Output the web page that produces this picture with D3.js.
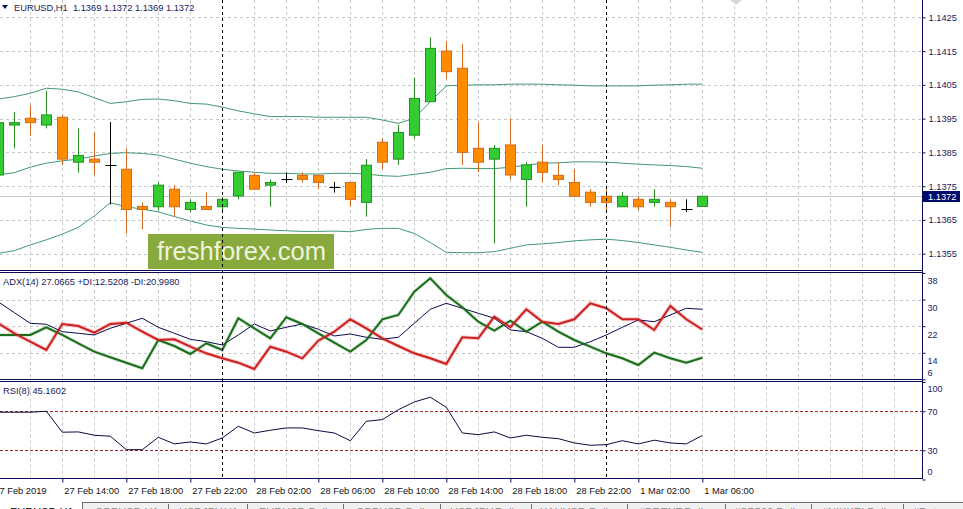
<!DOCTYPE html>
<html><head><meta charset="utf-8">
<script src="https://cdn.jsdelivr.net/npm/d3@7"></script>
<style>
body{margin:0;background:#fff;overflow:hidden}
svg{display:block}
text{font-family:"Liberation Sans",Arial,sans-serif}
</style></head>
<body><svg id="c" width="963" height="509"></svg>
<script>
// ---------------- data ----------------
const symbol = "EURUSD,H1";
const lastBar = ["1.1369", "1.1372", "1.1369", "1.1372"];
const open  = [1.13783,1.13931,1.13951,1.13931,1.13954,1.13821,1.13830,1.13813,1.13800,1.13690,1.13689,1.13741,1.13681,1.13690,1.13689,1.13721,1.13782,1.13753,1.13770,1.13782,1.13782,1.13747,1.13761,1.13702,1.13880,1.13830,1.13901,1.14000,1.14150,1.14099,1.13862,1.13830,1.13872,1.13770,1.13821,1.13782,1.13761,1.13732,1.13720,1.13689,1.13711,1.13702,1.13702,1.13681,1.13690];
const high  = [1.13943,1.13970,1.13990,1.14032,1.13961,1.13921,1.13909,1.13940,1.13862,1.13702,1.13761,1.13753,1.13711,1.13732,1.13717,1.13791,1.13790,1.13770,1.13791,1.13791,1.13782,1.13762,1.13761,1.13830,1.13892,1.13931,1.14071,1.14191,1.14180,1.14171,1.13939,1.13872,1.13951,1.13821,1.13872,1.13821,1.13800,1.13741,1.13741,1.13732,1.13720,1.13741,1.13711,1.13711,1.13720];
const low   = [1.13777,1.13862,1.13899,1.13921,1.13813,1.13790,1.13783,1.13696,1.13610,1.13622,1.13679,1.13660,1.13673,1.13681,1.13679,1.13711,1.13739,1.13689,1.13760,1.13761,1.13741,1.13731,1.13689,1.13660,1.13800,1.13813,1.13892,1.14000,1.14067,1.13813,1.13791,1.13581,1.13770,1.13689,1.13761,1.13753,1.13720,1.13689,1.13679,1.13689,1.13679,1.13689,1.13630,1.13673,1.13690];
const close = [1.13938,1.13938,1.13938,1.13961,1.13830,1.13841,1.13821,1.13813,1.13681,1.13681,1.13753,1.13689,1.13702,1.13681,1.13711,1.13791,1.13741,1.13761,1.13770,1.13770,1.13761,1.13747,1.13711,1.13812,1.13821,1.13909,1.14010,1.14158,1.14089,1.13850,1.13821,1.13862,1.13783,1.13813,1.13791,1.13770,1.13720,1.13702,1.13702,1.13720,1.13689,1.13711,1.13689,1.13681,1.13720];
const bbUpper  = [1.14008,1.14015,1.14025,1.14040,1.14037,1.14029,1.14012,1.13995,1.14000,1.14007,1.14008,1.14003,1.13995,1.13993,1.13984,1.13973,1.13964,1.13956,1.13956,1.13956,1.13954,1.13954,1.13954,1.13954,1.13946,1.13936,1.13951,1.14000,1.14047,1.14049,1.14050,1.14050,1.14052,1.14052,1.14052,1.14050,1.14049,1.14047,1.14047,1.14047,1.14047,1.14049,1.14050,1.14052,1.14052];
const bbMiddle = [1.13783,1.13790,1.13806,1.13818,1.13825,1.13830,1.13839,1.13847,1.13849,1.13847,1.13842,1.13830,1.13818,1.13808,1.13800,1.13795,1.13791,1.13788,1.13788,1.13786,1.13786,1.13788,1.13788,1.13786,1.13781,1.13779,1.13785,1.13791,1.13802,1.13803,1.13802,1.13802,1.13806,1.13812,1.13818,1.13819,1.13822,1.13822,1.13821,1.13818,1.13815,1.13813,1.13811,1.13808,1.13803];
const bbLower  = [1.13551,1.13559,1.13576,1.13591,1.13608,1.13628,1.13662,1.13701,1.13689,1.13682,1.13674,1.13660,1.13647,1.13635,1.13628,1.13625,1.13623,1.13620,1.13618,1.13616,1.13616,1.13617,1.13615,1.13622,1.13625,1.13625,1.13610,1.13583,1.13554,1.13553,1.13553,1.13556,1.13566,1.13576,1.13579,1.13583,1.13588,1.13591,1.13593,1.13589,1.13583,1.13576,1.13569,1.13561,1.13554];
const adx     = [29.3,26.05,22.86,22.56,20.34,19.86,19.35,21.36,22.86,24.37,21.66,19.86,18.05,17.33,16.34,19.35,22.65,20.55,21.66,22.65,21.06,19.05,19.65,18.65,18.05,18.65,22.86,27.07,28.87,27.37,25.87,24.37,20.85,20.34,18.35,15.65,15.65,17.33,19.35,21.66,23.85,23.34,25.36,27.37,27.07];
const plusDI  = [19.35,19.35,19.35,21.66,19.35,16.85,14.33,12.64,11.02,9.34,17.84,16.04,13.63,16.85,14.84,24.37,21.36,18.35,24.67,22.65,19.86,17.03,14.33,17.84,24.06,25.36,32.36,36.39,31.37,27.67,23.34,20.64,23.64,20.34,23.34,20.34,17.84,15.83,13.84,12.34,10.33,14.03,12.34,11.02,12.52];
const minusDI = [22.86,19.86,17.33,14.84,22.65,22.05,20.04,22.65,23.04,20.34,17.84,18.05,15.83,13.84,12.34,11.02,9.13,15.83,14.33,12.34,17.63,20.34,24.06,21.36,18.35,16.04,13.84,12.34,10.63,18.65,18.35,24.85,21.66,27.07,23.34,22.65,24.06,28.87,27.37,24.06,24.06,20.85,28.06,24.06,21.00];
const rsi     = [69.0,69.0,69.0,70.0,48.5,48.8,45.4,44.4,30.6,30.6,43.3,36.5,38.5,36.5,42.6,54.6,47.7,50.5,52.9,52.9,50.1,47.7,39.8,59.7,61.4,71.6,79.5,84.4,74.1,47.7,46.0,48.8,42.6,45.4,43.3,41.9,37.5,35.1,35.7,39.8,36.5,40.3,37.5,36.5,45.16];
const adxHeader = "ADX(14) 27.0665 +DI:12.5208 -DI:20.9980";
const rsiHeader = "RSI(8) 45.1602";
const priceTicks = [1.1355,1.1365,1.1375,1.1385,1.1395,1.1405,1.1415,1.1425];
const lastPrice = 1.1372;
const adxTicks = [6,14,22,30,38];
const rsiTicks = [0,30,70,100];
const rsiLevels = [30,70];
const timeLabels = ["27 Feb 2019","27 Feb 14:00","27 Feb 18:00","27 Feb 22:00","28 Feb 02:00","28 Feb 06:00","28 Feb 10:00","28 Feb 14:00","28 Feb 18:00","28 Feb 22:00","1 Mar 02:00","1 Mar 06:00"];
const timeTickIdx = [0,4,8,12,16,20,24,28,32,36,40,44];
const daySeparatorIdx = [14,38];
const tabs = ["EURUSD,H1","GBPUSD,H1","USDJPY,H1","EURUSD,Daily","GBPUSD,Daily","USDJPY,Daily","XAUUSD,Daily","#BRENT,Daily","#SP500,Daily","#NIKKEI,Daily","#Dat"];

// ---------------- layout ----------------
const W = 963, H = 509;
const axisX = 922;
const P = { main:[0,270], adx:[272,378.5], rsi:[380.5,478] };
const navy = "#0b0b5c", txt = "#1a1a5e";
const svg = d3.select("#c");
const n = close.length;
const x = d3.scaleLinear().domain([0, n-1]).range([-1.7, 702.3]);
const yP = d3.scaleLinear().domain([1.1355, 1.1425]).range([253.7, 17.3]);
const yA = d3.scaleLinear().domain([6, 38]).range([379.4, 272.9]);
const yR = d3.scaleLinear().domain([0, 100]).range([479.5, 382]);

const defs = svg.append("defs");
Object.entries(P).forEach(([k,[t,b]]) => {
  defs.append("clipPath").attr("id","clip-"+k).append("rect").attr("x",0).attr("y",t).attr("width",axisX).attr("height",b-t);
});

// vertical grid
const gridIdx = d3.range(2, 57, 2).filter(i => !daySeparatorIdx.includes(i));
Object.entries(P).forEach(([k,[t,b]]) => {
  svg.append("g").selectAll("line").data(gridIdx).join("line")
    .attr("x1", d => Math.round(x(d))+0.5).attr("x2", d => Math.round(x(d))+0.5)
    .attr("y1", t).attr("y2", b)
    .attr("stroke", "#c8c8c8").attr("stroke-dasharray", "3,3");
});
// horizontal grid main
svg.append("g").selectAll("line").data(priceTicks).join("line")
  .attr("x1",0).attr("x2",axisX).attr("y1",d=>Math.round(yP(d))+0.5).attr("y2",d=>Math.round(yP(d))+0.5)
  .attr("stroke","#c8c8c8").attr("stroke-dasharray","3,3");
// horizontal grid adx
svg.append("g").selectAll("line").data(adxTicks.filter(v=>v>6&&v<38)).join("line")
  .attr("x1",0).attr("x2",axisX).attr("y1",d=>Math.round(yA(d))+0.5).attr("y2",d=>Math.round(yA(d))+0.5)
  .attr("stroke","#c8c8c8").attr("stroke-dasharray","3,3");
// RSI levels
svg.append("g").selectAll("line").data(rsiLevels).join("line")
  .attr("x1",0).attr("x2",axisX).attr("y1",d=>Math.round(yR(d))+0.5).attr("y2",d=>Math.round(yR(d))+0.5)
  .attr("stroke","#a0282a").attr("stroke-dasharray","3,2");

// current price line
svg.append("line").attr("x1",0).attr("x2",axisX)
  .attr("y1",Math.round(yP(lastPrice))+0.5).attr("y2",Math.round(yP(lastPrice))+0.5)
  .attr("stroke","#c8c8c8");

// logo
const logo = svg.append("g");
logo.append("rect").attr("x",148).attr("y",234).attr("width",186).attr("height",35).attr("fill","#88a93c");
logo.append("text").attr("x",157).attr("y",259.5).attr("font-family","Lato, 'Open Sans', sans-serif")
  .attr("font-size",25).attr("fill","#eef4dc").attr("textLength",169).attr("lengthAdjust","spacingAndGlyphs")
  .text("freshforex.com");

// Bollinger bands
const gMain = svg.append("g").attr("clip-path","url(#clip-main)");
[bbUpper,bbMiddle,bbLower].forEach(arr => {
  gMain.append("path").datum(arr)
    .attr("d", d3.line().x((d,i)=>x(i)).y(d=>yP(d)))
    .attr("fill","none").attr("stroke","#3f9a72").attr("stroke-width",1);
});

// candles
const bull = {fill:"#33cc33", stroke:"#23901f"};
const bear = {fill:"#ff8c00", stroke:"#d2691e"};
const idx = d3.range(n);
const cg = gMain.append("g");
idx.forEach(i => {
  const cx = Math.round(x(i)) + 0.5;
  const o = open[i], c = close[i];
  if (o === c) {
    cg.append("line").attr("x1",cx).attr("x2",cx).attr("y1",yP(high[i])).attr("y2",yP(low[i])).attr("stroke","#000");
    cg.append("line").attr("x1",cx-5).attr("x2",cx+6).attr("y1",Math.round(yP(o))+0.5).attr("y2",Math.round(yP(o))+0.5).attr("stroke","#000");
    return;
  }
  const s = c > o ? bull : bear;
  cg.append("line").attr("x1",cx).attr("x2",cx).attr("y1",yP(high[i])).attr("y2",yP(low[i])).attr("stroke",s.stroke);
  const top = yP(Math.max(o,c)), bot = yP(Math.min(o,c));
  cg.append("rect").attr("x",cx-5).attr("y",top).attr("width",10).attr("height",Math.max(1,bot-top))
    .attr("fill",s.fill).attr("stroke",s.stroke);
});

// ADX panel
const gA = svg.append("g").attr("clip-path","url(#clip-adx)");
const lineA = d3.line().x((d,i)=>x(i)).y(d=>yA(d));
gA.append("path").datum(minusDI).attr("d",lineA).attr("fill","none").attr("stroke","#f3a3a3").attr("stroke-width",4).attr("opacity",0.6);
gA.append("path").datum(plusDI).attr("d",lineA).attr("fill","none").attr("stroke","#9cc79c").attr("stroke-width",3.5).attr("opacity",0.5);
gA.append("path").datum(adx).attr("d",lineA).attr("fill","none").attr("stroke","#0a0a50").attr("stroke-width",1);
gA.append("path").datum(plusDI).attr("d",lineA).attr("fill","none").attr("stroke","#1c6e1c").attr("stroke-width",2);
gA.append("path").datum(minusDI).attr("d",lineA).attr("fill","none").attr("stroke","#cc2020").attr("stroke-width",2);

// RSI panel
const gR = svg.append("g").attr("clip-path","url(#clip-rsi)");
gR.append("path").datum(rsi).attr("d", d3.line().x((d,i)=>x(i)).y(d=>yR(d)))
  .attr("fill","none").attr("stroke","#0a0a40").attr("stroke-width",1);

// day separators
svg.append("g").selectAll("line").data(daySeparatorIdx).join("line")
  .attr("x1",d=>Math.round(x(d))+0.5).attr("x2",d=>Math.round(x(d))+0.5)
  .attr("y1",0).attr("y2",P.rsi[1]).attr("stroke","#000").attr("stroke-dasharray","3,3");

// panel borders
[[P.main[1]],[P.adx[0]],[P.adx[1]],[P.rsi[0]],[P.rsi[1]]].forEach(([yy]) => {
  svg.append("line").attr("x1",0).attr("x2",axisX+1).attr("y1",Math.round(yy)+0.5).attr("y2",Math.round(yy)+0.5).attr("stroke",navy);
});
svg.append("line").attr("x1",axisX+0.5).attr("x2",axisX+0.5).attr("y1",0).attr("y2",P.rsi[1]+1).attr("stroke",navy);

// price axis
const axP = svg.append("g").attr("transform",`translate(${axisX+0.5},0)`)
  .call(d3.axisRight(yP).tickValues(priceTicks).tickSize(3).tickPadding(3).tickFormat(d3.format(".4f")));
axP.select(".domain").remove();
axP.selectAll("line").attr("stroke",navy);
axP.selectAll("text").attr("font-size",9.3).attr("fill",txt).attr("font-family","'Liberation Sans',Arial,sans-serif");

// last price tag
const ly = yP(lastPrice);
svg.append("rect").attr("x",axisX+1).attr("y",Math.round(ly)-5).attr("width",37).attr("height",11).attr("fill","#000a6e");
svg.append("text").attr("x",axisX+6).attr("y",ly).attr("dy","0.35em").attr("font-size",9.3).attr("fill","#fff").text(d3.format(".4f")(lastPrice));

// ADX axis
const axA = svg.append("g").attr("transform",`translate(${axisX+0.5},0)`)
  .call(d3.axisRight(yA).tickValues(adxTicks).tickSize(3).tickPadding(2).tickFormat(d3.format("d")));
axA.select(".domain").remove();
axA.selectAll("line").attr("stroke",navy);
axA.selectAll("text").attr("font-size",9).attr("fill",txt)
  .attr("y", d => d === 6 ? (P.adx[1]-6) - yA(d) : 8);

// RSI axis
const axR = svg.append("g").attr("transform",`translate(${axisX+0.5},0)`)
  .call(d3.axisRight(yR).tickValues(rsiTicks).tickSize(3).tickPadding(2).tickFormat(d3.format("d")));
axR.select(".domain").remove();
axR.selectAll("line").attr("stroke",navy);
axR.selectAll("text").attr("font-size",9).attr("fill",txt)
  .attr("y", d => d === 100 ? (P.rsi[0]+8) - yR(d) : d === 0 ? (P.rsi[1]-6) - yR(d) : 0);

// time axis
const axT = svg.append("g").attr("transform",`translate(0,${P.rsi[1]+0.5})`)
  .call(d3.axisBottom(x).tickValues(timeTickIdx).tickSize(4).tickPadding(3).tickFormat((d,i)=>timeLabels[i]));
axT.select(".domain").remove();
axT.selectAll("line").attr("stroke",navy);
axT.selectAll("text").attr("font-size",9.3).attr("fill","#111").attr("text-anchor","start")
  .attr("x",(d,i)=> i===0 ? -4.5 : 1.5).attr("dy","0.9em");

// headers
svg.append("path").attr("d","M2,5 L8,5 L5,9 Z").attr("fill",navy);
svg.append("text").attr("x",14).attr("y",7.5).attr("dy","0.35em").attr("font-size",9.3).attr("fill",txt)
  .attr("xml:space","preserve").text(symbol + "  " + lastBar.join(" "));
svg.append("text").attr("x",3).attr("y",281.7).attr("dy","0.35em").attr("font-size",9.3).attr("fill",txt).text(adxHeader);
svg.append("text").attr("x",3).attr("y",390.7).attr("dy","0.35em").attr("font-size",9.3).attr("fill",txt).text(rsiHeader);

// small grey marker top
svg.append("path").attr("d","M730,0 L742,0 L736,5 Z").attr("fill","#d8d8d8");

// tabs
const tabX = [10,95,179,259,356,450,540,639,734,822,913];
const sepX = [82,168,247,343,440,531,627,725,811,903];
svg.append("rect").attr("x",82).attr("y",502).attr("width",W-82).attr("height",7).attr("fill","#f0f0f0");
svg.append("line").attr("x1",82).attr("x2",W).attr("y1",502.5).attr("y2",502.5).attr("stroke","#707070");
svg.selectAll(".sep").data(sepX).join("line").attr("class","sep")
  .attr("x1",d=>d+0.5).attr("x2",d=>d+0.5).attr("y1",d=>d===82?502:504).attr("y2",H).attr("stroke","#707070");
svg.selectAll(".tab").data(tabs).join("text").attr("class","tab")
  .attr("x",(d,i)=>tabX[i]).attr("y",515.5).attr("font-size",11)
  .attr("fill",(d,i)=> i===0 ? "#000" : "#8a8a8a").text(d=>d);
</script></body></html>
